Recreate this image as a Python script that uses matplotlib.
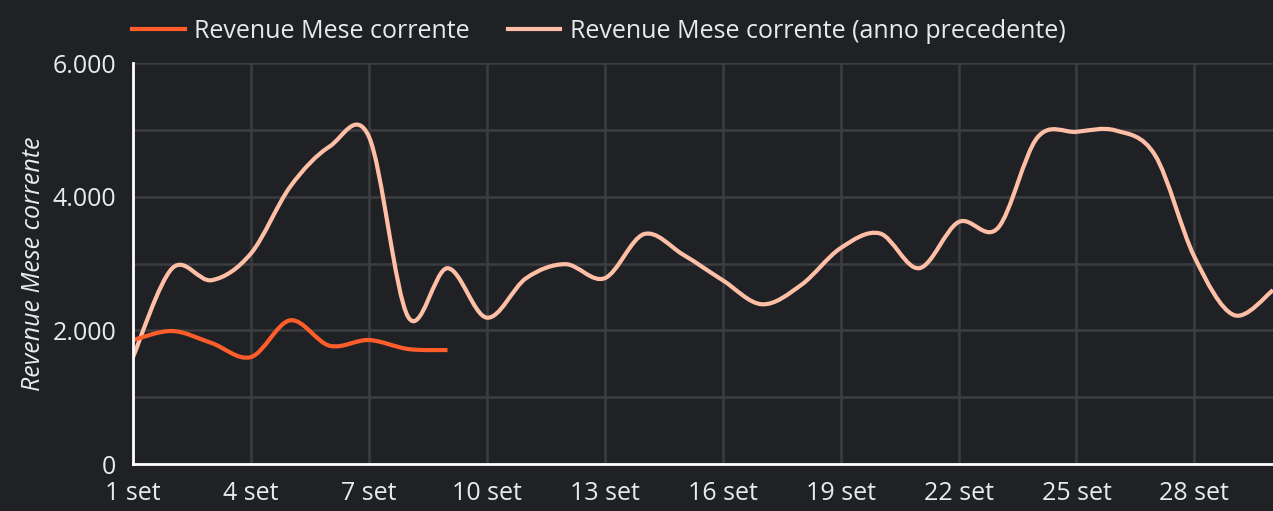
import numpy as np
import matplotlib
matplotlib.use("Agg")
import matplotlib.pyplot as plt
from matplotlib.path import Path
from matplotlib.patches import PathPatch
from matplotlib.lines import Line2D
from matplotlib.ticker import FuncFormatter, MultipleLocator, FixedLocator

# ---- data ----
days_current = [1, 2, 3, 4, 5, 6, 7, 8, 9]
revenue_current = [1855, 1990, 1810, 1600, 2150, 1770, 1855, 1720, 1705]

days_previous = list(range(1, 31))
revenue_previous = [1600, 2930, 2750, 3150, 4150, 4750, 4900, 2200, 2930, 2190,
                    2780, 2990, 2780, 3440, 3130, 2750, 2390, 2680, 3230, 3450,
                    2930, 3620, 3530, 4880, 4970, 4990, 4620, 3100, 2230, 2600]

tick_days = [1, 4, 7, 10, 13, 16, 19, 22, 25, 28]
tick_labels = [f"{d} set" for d in tick_days]
y_ticks = [0, 2000, 4000, 6000]

label_current = "Revenue Mese corrente"
label_previous = "Revenue Mese corrente (anno precedente)"
y_label = "Revenue Mese corrente"

# ---- style ----
BG = "#202124"
GRID = "#3c3d41"
TEXT = "#e8eaed"
C_CUR = "#ff5e2b"
C_PREV = "#ffbfa6"
FONT = ["Open Sans", "DejaVu Sans"]
plt.rcParams["font.family"] = FONT
FS = 18

fig = plt.figure(figsize=(12.73, 5.11), dpi=100, facecolor=BG)
ax = fig.add_axes([133 / 1273, 47 / 511, 1140 / 1273, 401 / 511])
ax.set_facecolor(BG)


def smooth_path(xs, ys):
    xs = np.asarray(xs, float)
    ys = np.asarray(ys, float)
    px = np.concatenate([[xs[0]], xs, [xs[-1]]])
    py = np.concatenate([[ys[0]], ys, [ys[-1]]])
    verts = [(xs[0], ys[0])]
    codes = [Path.MOVETO]
    for i in range(1, len(px) - 2):
        c1 = (px[i] + (px[i + 1] - px[i - 1]) / 6, py[i] + (py[i + 1] - py[i - 1]) / 6)
        c2 = (px[i + 1] - (px[i + 2] - px[i]) / 6, py[i + 1] - (py[i + 2] - py[i]) / 6)
        verts += [c1, c2, (px[i + 1], py[i + 1])]
        codes += [Path.CURVE4] * 3
    return Path(verts, codes)


for xs, ys, col, z in [(days_previous, revenue_previous, C_PREV, 3),
                       (days_current, revenue_current, C_CUR, 4)]:
    patch = PathPatch(smooth_path(xs, ys), facecolor="none", edgecolor=col,
                      lw=3.0, capstyle="butt", joinstyle="round", zorder=z,
                      clip_on=True)
    ax.add_patch(patch)

ax.set_xlim(1, 30)
ax.set_ylim(0, 6000)

ax.xaxis.set_major_locator(FixedLocator(tick_days))
ax.set_xticklabels(tick_labels)
ax.yaxis.set_major_locator(FixedLocator(y_ticks))
ax.yaxis.set_minor_locator(MultipleLocator(1000))
ax.yaxis.set_major_formatter(FuncFormatter(lambda v, p: f"{int(v):,}".replace(",", ".")))

ax.grid(True, which="both", axis="y", color=GRID, lw=1.8)
ax.grid(True, which="major", axis="x", color=GRID, lw=1.8)
ax.set_axisbelow(True)

ax.tick_params(axis="both", which="both", length=0, colors=TEXT, labelsize=FS)
ax.tick_params(axis="y", pad=12)
ax.tick_params(axis="x", pad=12)

for s in ["top", "right"]:
    ax.spines[s].set_visible(False)
for s in ["left", "bottom"]:
    ax.spines[s].set_color("white")
    ax.spines[s].set_linewidth(2)
    ax.spines[s].set_zorder(5)

ax.set_ylabel(y_label, color=TEXT, fontsize=FS, fontstyle="italic")
ax.yaxis.set_label_coords(-0.076, 0.5)

handles = [Line2D([], [], color=C_CUR, lw=3), Line2D([], [], color=C_PREV, lw=3)]
leg = fig.legend(handles, [label_current, label_previous], ncol=2,
                 loc="center left", bbox_to_anchor=(122 / 1273, 1 - 31 / 511),
                 frameon=False, fontsize=FS, handlelength=2.1, handletextpad=0.4,
                 columnspacing=1.5, labelcolor=TEXT, borderaxespad=0)

fig.savefig("out.png", dpi=100, facecolor=BG)
